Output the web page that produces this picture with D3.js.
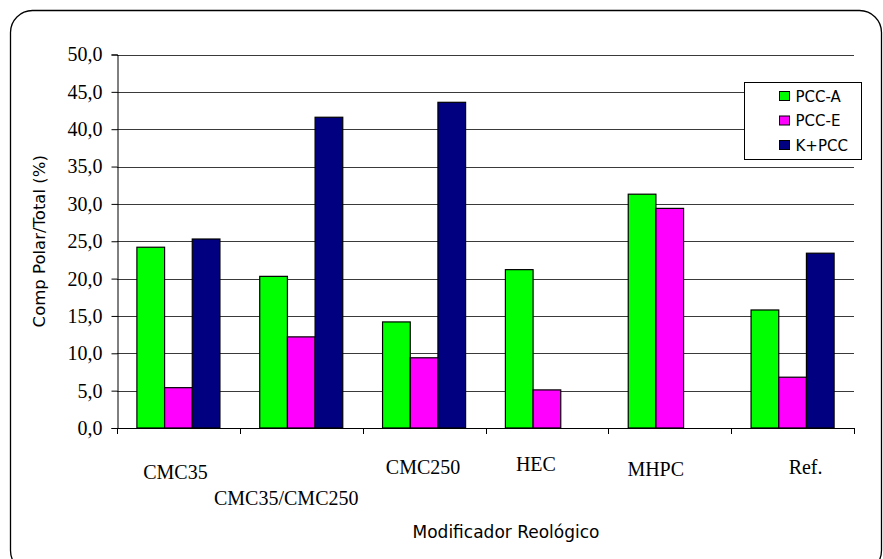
<!DOCTYPE html>
<html>
<head>
<meta charset="utf-8">
<script src="https://cdn.jsdelivr.net/npm/d3@7"></script>
<style>
  html, body { margin: 0; padding: 0; background: #fff; }
  svg { display: block; }
</style>
</head>
<body>
<script>
// Polar component share by rheology modifier
const categories = ["CMC35", "CMC35/CMC250", "CMC250", "HEC", "MHPC", "Ref."];
const seriesNames = ["PCC-A", "PCC-E", "K+PCC"];
const pccA = [24.2, 20.3, 14.2, 21.2, 31.3, 15.8];
const pccE = [5.4, 12.2, 9.4, 5.1, 29.4, 6.8];
const kPcc = [25.3, 41.6, 43.6, null, null, 23.4];
const yTicks = [0, 5, 10, 15, 20, 25, 30, 35, 40, 45, 50];
const yTitle = "Comp Polar/Total (%)";
const xTitle = "Modificador Reológico";

const seriesValues = [pccA, pccE, kPcc];
const colors = ["#00ff00", "#ff00ff", "#000080"];

const W = 883, H = 559;
const plot = { left: 117, right: 854, top: 54.5, bottom: 428 };

const svg = d3.select("body").append("svg")
  .attr("width", W).attr("height", H);

// outer rounded frame
svg.append("rect")
  .attr("x", 10.5).attr("y", 10.5)
  .attr("width", 871).attr("height", 562)
  .attr("rx", 22).attr("ry", 22)
  .attr("fill", "#fff").attr("stroke", "#000").attr("stroke-width", 1.3);

const x0 = d3.scaleBand().domain(categories)
  .range([plot.left, plot.right]).paddingInner(0).paddingOuter(0);
const bw = x0.bandwidth();
const gap = bw * 0.162;
const x1 = d3.scaleBand().domain(seriesNames).range([gap, bw - gap]).padding(0);
const y = d3.scaleLinear().domain([0, 50]).range([plot.bottom, plot.top]);

// horizontal grid
svg.append("g").selectAll("line").data(yTicks.filter(t => t > 0)).join("line")
  .attr("x1", plot.left).attr("x2", plot.right)
  .attr("y1", d => Math.round(y(d)) + 0.5).attr("y2", d => Math.round(y(d)) + 0.5)
  .attr("stroke", "#3a3a3a").attr("stroke-width", 1);

// bars
const rows = [];
categories.forEach((c, i) => seriesNames.forEach((s, j) => {
  const v = seriesValues[j][i];
  if (v != null) rows.push({ c, s, v, j });
}));
svg.append("g").selectAll("rect").data(rows).join("rect")
  .attr("x", d => x0(d.c) + x1(d.s))
  .attr("y", d => y(d.v))
  .attr("width", x1.bandwidth())
  .attr("height", d => y(0) - y(d.v))
  .attr("fill", d => colors[d.j])
  .attr("stroke", "#000").attr("stroke-width", 1.2);

// y axis
const yAxis = d3.axisLeft(y).tickValues(yTicks).tickSize(6).tickPadding(9)
  .tickFormat(d => d3.format(".1f")(d).replace(".", ","));
const gy = svg.append("g").attr("transform", `translate(${plot.left + 0.5},0)`).call(yAxis);
gy.select(".domain").attr("stroke", "#000");
gy.selectAll(".tick line").attr("stroke", "#000");
gy.selectAll(".tick text")
  .attr("font-family", "'Liberation Serif', 'Times New Roman', serif")
  .attr("font-size", 20).attr("fill", "#000");

// x axis line with ticks at category boundaries
const boundaries = categories.map(c => x0(c)).concat([plot.right]);
svg.append("line")
  .attr("x1", plot.left).attr("x2", plot.right)
  .attr("y1", plot.bottom + 0.5).attr("y2", plot.bottom + 0.5)
  .attr("stroke", "#000");
svg.append("g").selectAll("line").data(boundaries).join("line")
  .attr("x1", d => Math.round(d) + 0.5).attr("x2", d => Math.round(d) + 0.5)
  .attr("y1", plot.bottom).attr("y2", plot.bottom + 6)
  .attr("stroke", "#000");

// staggered category labels
const labelShift = [-3, -15, -1, -11, -14, 13];
const labelBase = [479, 505, 474, 471, 476, 474];
svg.append("g").selectAll("text").data(categories).join("text")
  .attr("x", (d, i) => x0(d) + bw / 2 + labelShift[i])
  .attr("y", (d, i) => labelBase[i])
  .attr("text-anchor", "middle")
  .attr("font-family", "'Liberation Serif', 'Times New Roman', serif")
  .attr("font-size", 20).attr("fill", "#000")
  .text(d => d);

// axis titles
svg.append("text")
  .attr("transform", `translate(45,${(plot.top + plot.bottom) / 2}) rotate(-90)`)
  .attr("text-anchor", "middle")
  .attr("font-family", "'DejaVu Sans', Verdana, sans-serif")
  .attr("font-size", 16.5).attr("fill", "#000")
  .text(yTitle);

svg.append("text")
  .attr("x", 506).attr("y", 538)
  .attr("text-anchor", "middle")
  .attr("font-family", "'DejaVu Sans', Verdana, sans-serif")
  .attr("font-size", 17).attr("fill", "#000")
  .text(xTitle);

// legend
const lg = svg.append("g").attr("transform", "translate(744.5,82.5)");
lg.append("rect").attr("width", 117).attr("height", 77)
  .attr("fill", "#fff").attr("stroke", "#000").attr("stroke-width", 1);
const items = lg.selectAll("g.item").data(seriesNames).join("g")
  .attr("class", "item")
  .attr("transform", (d, i) => `translate(35,${9 + i * 24.5})`);
items.append("rect").attr("width", 10).attr("height", 9)
  .attr("fill", (d, i) => colors[i]).attr("stroke", "#000").attr("stroke-width", 1);
items.append("text")
  .attr("x", 16).attr("y", 10)
  .attr("font-family", "'DejaVu Sans', Verdana, sans-serif")
  .attr("font-size", 15).attr("fill", "#000")
  .text(d => d);
</script>
</body>
</html>
